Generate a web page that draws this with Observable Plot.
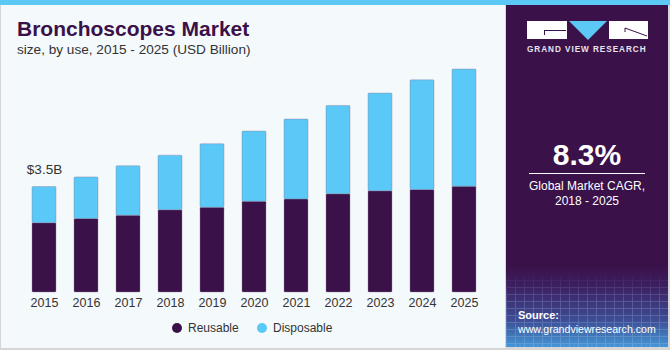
<!DOCTYPE html>
<html>
<head>
<meta charset="utf-8">
<script src="https://cdn.jsdelivr.net/npm/d3@7"></script>
<script src="https://cdn.jsdelivr.net/npm/@observablehq/plot@0.6"></script>
<style>
  html, body { margin: 0; padding: 0; }
  body { width: 670px; height: 350px; overflow: hidden; font-family: "Liberation Sans", Arial, sans-serif; }
  #wrap { position: relative; width: 670px; height: 350px; background: #d6d6d6; overflow: hidden; }
  #stripe { position: absolute; left: 0; top: 0; width: 670px; height: 5px; background: #5bc8f5; }
  #left { position: absolute; left: 1px; top: 5px; width: 504px; height: 343px; background: #f4f9fc; }
  #right { position: absolute; left: 506px; top: 5px; width: 162px; height: 342px;
    background: linear-gradient(to bottom, #3a1149 0%, #3a1149 76%, #3d1f60 82%, #3d4c93 92%, #4596d6 100%); overflow: hidden; }
  #grid { position: absolute; left: 0; top: 268px; width: 162px; height: 76px; opacity: 0.22;
    background-image: repeating-linear-gradient(to right, rgba(200,220,255,0.9) 0 1px, transparent 1px 9px),
                      repeating-linear-gradient(to bottom, rgba(200,220,255,0.9) 0 1px, transparent 1px 7px);
    -webkit-mask-image: linear-gradient(to bottom, transparent 0%, #000 35%); mask-image: linear-gradient(to bottom, transparent 0%, #000 35%); }
  .abs { position: absolute; white-space: nowrap; line-height: 1; }
  #title { left: 17px; top: 18px; font-size: 21px; font-weight: bold; color: #3a1149; }
  #subtitle { left: 17px; top: 42.5px; font-size: 13.6px; color: #333; }
  #chart { position: absolute; left: 0; top: 60px; }
  .leg { font-size: 12px; color: #333; top: 322px; }
  .dot { position: absolute; width: 10px; height: 10px; border-radius: 50%; top: 323px; }
  .w { color: #fff; }
</style>
</head>
<body>
<div id="wrap">
  <div id="stripe"></div>
  <div id="left"></div>
  <div id="right"><div id="grid"></div></div>
  <div class="abs" id="title"></div>
  <div class="abs" id="subtitle"></div>
  <div id="chart"></div>
  <div id="legend"></div>
  <!-- logo -->
  <div style="position:absolute;left:527px;top:21px;width:40px;height:18px;background:#fff;"></div>
  <div style="position:absolute;left:544px;top:30px;width:22px;height:1px;background:#3a1149;"></div>
  <div style="position:absolute;left:544px;top:30px;width:1px;height:5px;background:#3a1149;"></div>
  <svg style="position:absolute;left:569px;top:21px;" width="38" height="19"><polygon points="0,0 38,0 19,19" fill="#5bc8f5"/></svg>
  <div style="position:absolute;left:609px;top:21px;width:39px;height:18px;background:#fff;"></div>
  <svg style="position:absolute;left:609px;top:21px;" width="39" height="18"><line x1="16" y1="7" x2="38" y2="15" stroke="#3a1149" stroke-width="1"/><line x1="16" y1="7" x2="16" y2="11" stroke="#3a1149" stroke-width="1"/></svg>
  <div class="abs w" style="left:527px;top:46px;font-size:8.2px;font-weight:bold;letter-spacing:0.95px;color:#e8e4ee;">GRAND VIEW RESEARCH</div>
  <div class="abs w" id="cagr" style="left:506px;width:162px;text-align:center;top:140px;font-size:30px;font-weight:bold;"></div>
  <div style="position:absolute;left:529px;top:173px;width:116px;height:1px;background:#fff;"></div>
  <div class="abs w" id="cagrLabel" style="left:506px;width:162px;text-align:center;top:179px;font-size:12px;line-height:14.5px;white-space:pre;"></div>
  <div class="abs w" style="left:518px;top:310px;font-size:11px;font-weight:bold;">Source:</div>
  <div class="abs w" style="left:518px;top:324px;font-size:10.6px;">www.grandviewresearch.com</div>
</div>
<script>
// ---- data ----
const years = ["2015","2016","2017","2018","2019","2020","2021","2022","2023","2024","2025"];
const reusable   = [2.30, 2.44, 2.55, 2.73, 2.81, 3.01, 3.09, 3.26, 3.36, 3.40, 3.51];
const disposable = [1.20, 1.38, 1.64, 1.81, 2.11, 2.33, 2.65, 2.93, 3.24, 3.64, 3.89];
const seriesNames = ["Reusable", "Disposable"];
const seriesColors = ["#3a1149", "#5bc9f7"];
const annotationYear = "2015";
const annotationValue = 3.5;
const annotationText = "$3.5B";
const titleText = "Bronchoscopes Market";
const subtitleText = "size, by use, 2015 - 2025 (USD Billion)";
const cagrText = "8.3%";
const cagrLabelText = "Global Market CAGR,\n2018 - 2025";

document.getElementById("title").textContent = titleText;
document.getElementById("subtitle").textContent = subtitleText;
document.getElementById("cagr").textContent = cagrText;
document.getElementById("cagrLabel").textContent = cagrLabelText;

const rows = years.flatMap((y, i) => [
  {year: y, series: seriesNames[0], value: reusable[i]},
  {year: y, series: seriesNames[1], value: disposable[i]}
]);

const chart = Plot.plot({
  width: 505,
  height: 255,
  marginTop: 6,
  marginBottom: 23,
  marginLeft: 13,
  marginRight: 11,
  style: {background: "transparent", fontFamily: "'Liberation Sans', Arial, sans-serif", fontSize: "12.5px", color: "#333"},
  x: {type: "band", domain: years, padding: 0.43, label: null, tickSize: 0, tickPadding: 6},
  y: {domain: [0, 7.5], axis: null},
  color: {domain: seriesNames, range: seriesColors},
  marks: [
    Plot.barY(rows, {x: "year", y: "value", fill: "series", stroke: "#8a7a99", strokeWidth: 0.4, rx: 1}),
    Plot.text([{year: annotationYear, value: annotationValue}], {x: "year", y: "value", text: () => annotationText, dy: -17, fontSize: 13.5, fill: "#333"})
  ]
});
document.getElementById("chart").appendChild(chart);

// legend
const legend = document.getElementById("legend");
const legX = [[172, 188], [257, 273]];
seriesNames.forEach((s, i) => {
  const d = document.createElement("div");
  d.className = "dot"; d.style.left = legX[i][0] + "px"; d.style.background = seriesColors[i];
  legend.appendChild(d);
  const t = document.createElement("div");
  t.className = "abs leg"; t.style.left = legX[i][1] + "px"; t.textContent = s;
  legend.appendChild(t);
});
</script>
</body>
</html>
